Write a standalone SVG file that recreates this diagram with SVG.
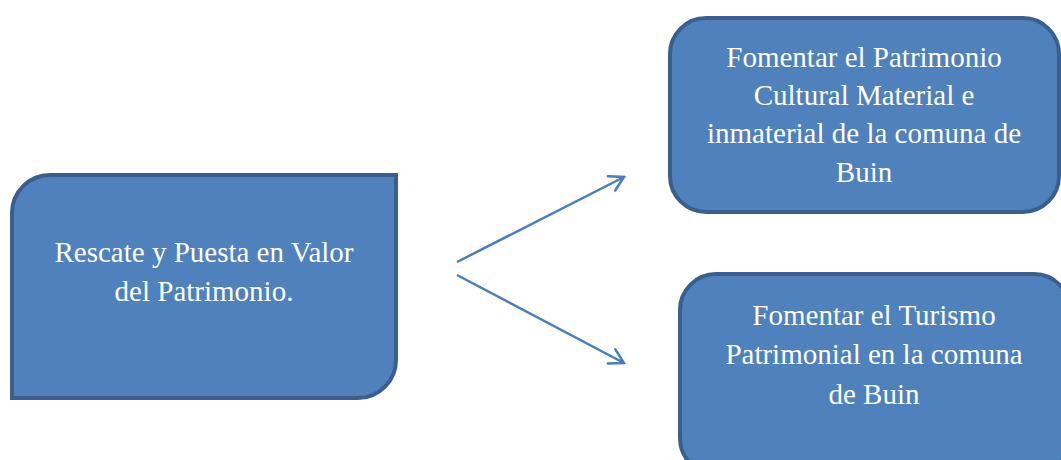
<svg xmlns="http://www.w3.org/2000/svg" width="1061" height="460" viewBox="0 0 1061 460">
  <style>
    .box { fill: #4F81BD; stroke: #3A5F8C; stroke-width: 4; }
    .label { font-family: "Liberation Serif", "Times New Roman", serif; font-size: 29px; fill: #FFFFFF; text-anchor: middle; }
    .link { stroke: #4A7EBB; stroke-width: 2.5; fill: none; marker-end: url(#chevron); }
  </style>
  <defs>
    <marker id="chevron" viewBox="0 0 20 20" refX="18" refY="10" markerWidth="20" markerHeight="20" markerUnits="userSpaceOnUse" orient="auto">
      <path d="M4,2 L18,10 L4,18" fill="none" stroke="#4A7EBB" stroke-width="2.5" stroke-linecap="round" stroke-linejoin="miter"/>
    </marker>
  </defs>
  <rect width="1061" height="460" fill="#FFFFFF"/>

  <g id="node-rescate">
    <path class="box" d="M12,213 A38,38 0 0 1 50,175 L396,175 L396,360 A38,38 0 0 1 358,398 L12,398 Z"/>
    <text class="label" x="204" y="262">Rescate y Puesta en Valor</text>
    <text class="label" x="204" y="301">del Patrimonio.</text>
  </g>

  <g id="node-patrimonio">
    <rect class="box" x="670" y="18" width="389" height="194" rx="36" ry="36"/>
    <text class="label" x="864" y="67">Fomentar el Patrimonio</text>
    <text class="label" x="864" y="105">Cultural Material e</text>
    <text class="label" x="864" y="143">inmaterial de la comuna de</text>
    <text class="label" x="864" y="182">Buin</text>
  </g>

  <g id="node-turismo">
    <rect class="box" x="680" y="274" width="390" height="200" rx="36" ry="36"/>
    <text class="label" x="874" y="325">Fomentar el Turismo</text>
    <text class="label" x="874" y="364">Patrimonial en la comuna</text>
    <text class="label" x="874" y="404">de Buin</text>
  </g>

  <g id="connectors">
    <line class="link" x1="457" y1="262" x2="624" y2="177"/>
    <line class="link" x1="457" y1="275" x2="624" y2="363"/>
  </g>
</svg>
